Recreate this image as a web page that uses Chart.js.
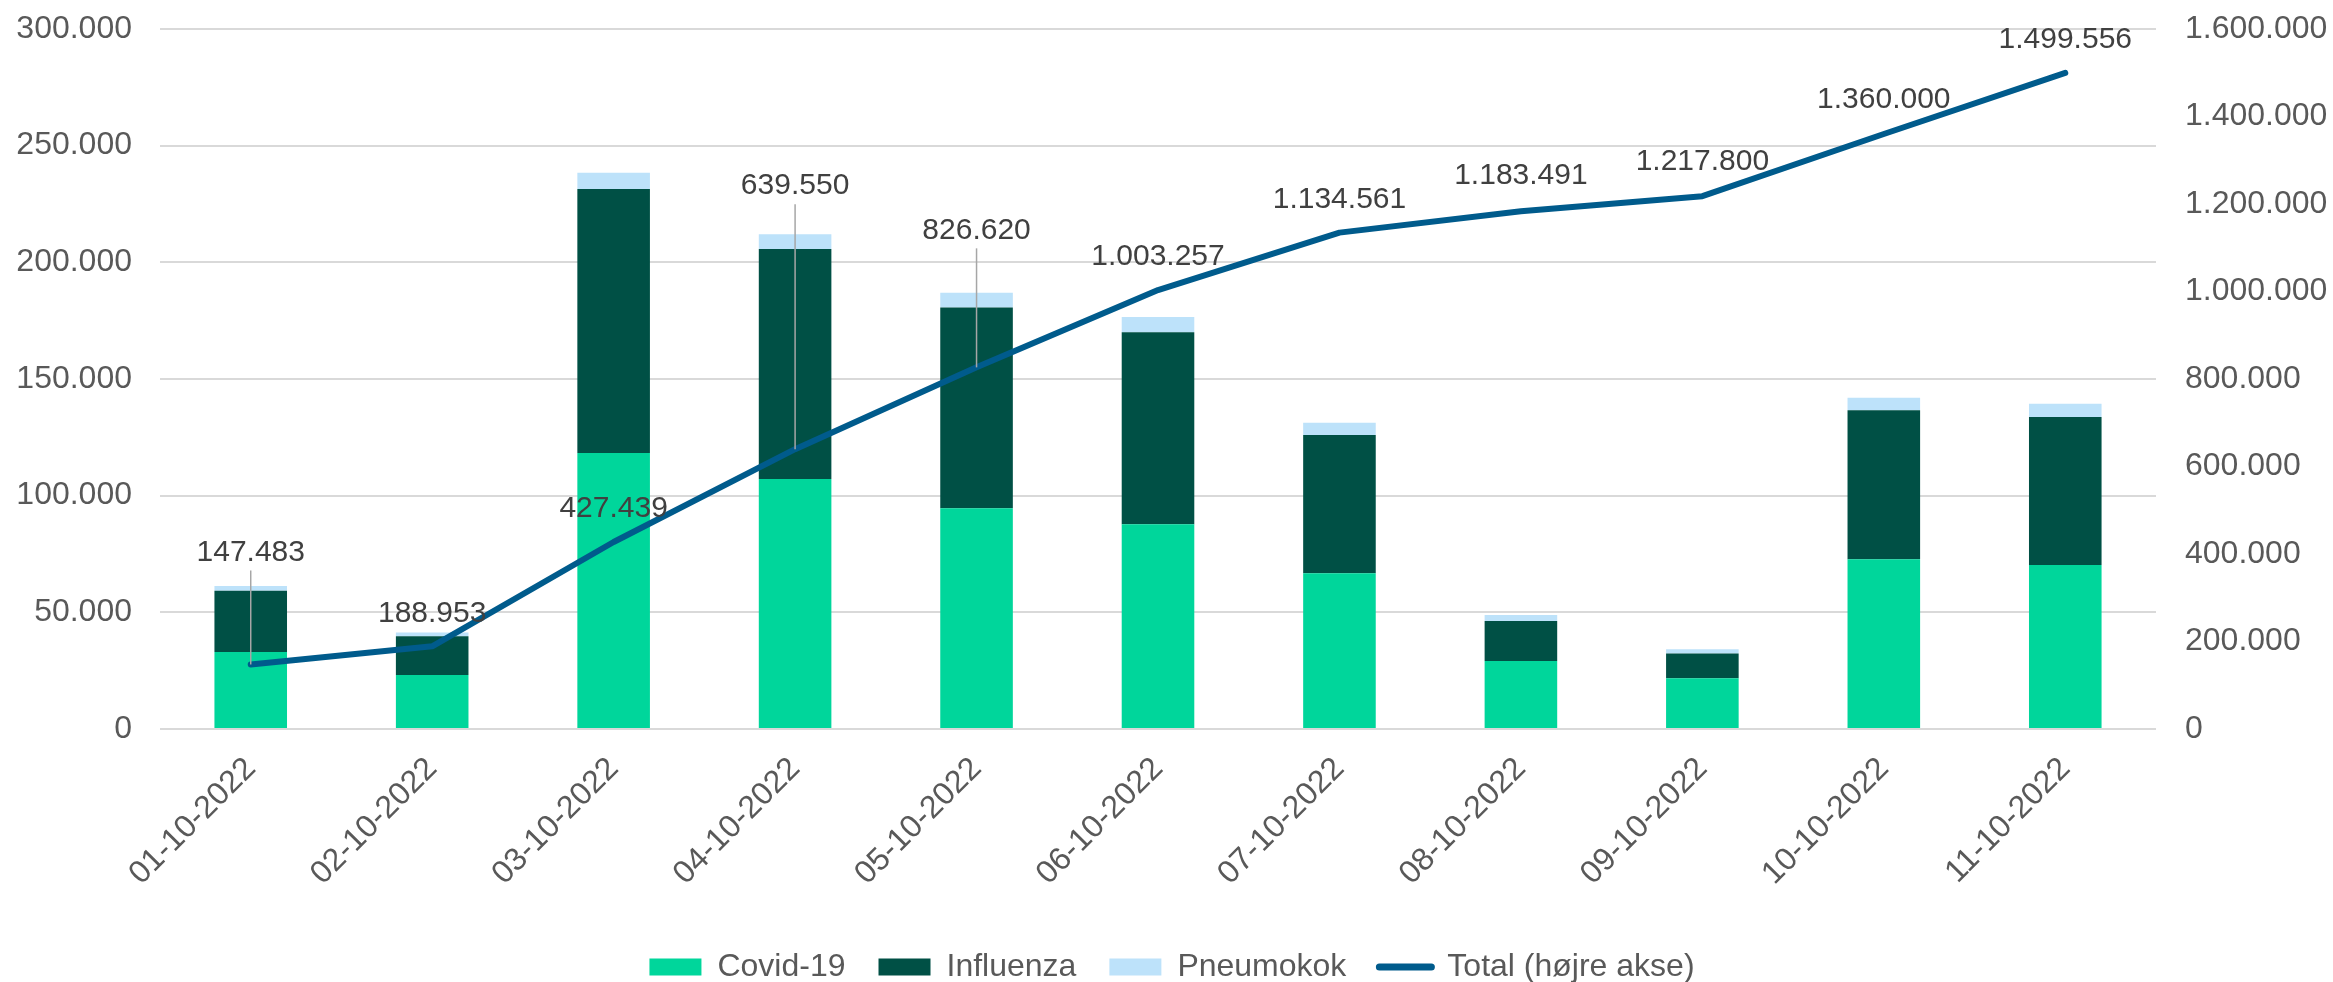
<!DOCTYPE html>
<html lang="da">
<head>
<meta charset="utf-8">
<title>Vaccinationer pr. dag</title>
<script src="https://cdn.jsdelivr.net/npm/chart.js@4.4.0/dist/chart.umd.min.js"></script>
<style>
  html, body { margin: 0; padding: 0; background: #fff; }
  #wrap { width: 2333px; height: 982px; position: relative; }
</style>
</head>
<body>
<div id="wrap"><canvas id="graf"></canvas></div>
<script>
"use strict";

// data
const datoer = ['01-10-2022', '02-10-2022', '03-10-2022', '04-10-2022', '05-10-2022', '06-10-2022',
                '07-10-2022', '08-10-2022', '09-10-2022', '10-10-2022', '11-10-2022'];
const covid = [33000, 23100, 118300, 107100, 94600, 87700, 66700, 29100, 21700, 72700, 70300];
const influenza = [26300, 16600, 113100, 98600, 86000, 82300, 59300, 17200, 10700, 63900, 63400];
const pneumokok = [2000, 1700, 7000, 6300, 6400, 6600, 5300, 2600, 1800, 5400, 5700];
const total = [147483, 188953, 427439, 639550, 826620, 1003257, 1134561, 1183491, 1217800, 1360000, 1499556];

// akser
const venstreMax = 300000, venstreStep = 50000;
const hoejreMax = 1600000, hoejreStep = 200000;

// hvor højt over punktet etiketten sidder (px) - nogle er flyttet op med streg
const etiketLoeft = [112, 33, 33, 263, 137, 33, 33, 35, 34, 34, 33];

const FONT = "'Liberation Sans', Arial, sans-serif";
const GRAA = '#595959';

function tal(v) {
    return String(Math.round(v)).replace(/\B(?=(\d{3})+(?!\d))/g, '.');
}

// tegner dataetiketter for totallinjen
const etiketter = {
    id: 'etiketter',
    afterDatasetsDraw: function (chart) {
        const ctx = chart.ctx;
        const idx = chart.data.datasets.findIndex(function (d) { return d.type === 'line'; });
        const meta = chart.getDatasetMeta(idx);
        ctx.save();
        ctx.font = '30px ' + FONT;
        ctx.textAlign = 'center';
        ctx.textBaseline = 'middle';
        meta.data.forEach(function (pt, i) {
            const ly = pt.y - etiketLoeft[i];
            if (etiketLoeft[i] > 60) {
                ctx.strokeStyle = '#a6a6a6';
                ctx.lineWidth = 1.5;
                ctx.beginPath();
                ctx.moveTo(pt.x, ly + 18);
                ctx.lineTo(pt.x, pt.y);
                ctx.stroke();
            }
            ctx.fillStyle = '#404040';
            ctx.fillText(tal(total[i]), pt.x, ly);
        });
        ctx.restore();
    }
};

// fast bredde paa y-akserne og ingen ekstra luft, saa plotomraadet sidder som i originalen
function yAkse(bredde) {
    return function (scale) {
        scale.paddingTop = 0;
        scale.paddingBottom = 0;
        scale.width = bredde;
    };
}

const ctx = document.getElementById('graf');
new Chart(ctx, {
    data: {
        labels: datoer,
        datasets: [
            { type: 'bar', label: 'Covid-19', data: covid, backgroundColor: '#00d69b', order: 1, yAxisID: 'y' },
            { type: 'bar', label: 'Influenza', data: influenza, backgroundColor: '#005045', order: 1, yAxisID: 'y' },
            { type: 'bar', label: 'Pneumokok', data: pneumokok, backgroundColor: '#bde2fa', order: 1, yAxisID: 'y' },
            {
                type: 'line', label: 'Total (højre akse)', data: total, yAxisID: 'y1', order: 0,
                borderColor: '#005b8c', backgroundColor: '#005b8c', borderWidth: 6,
                pointRadius: 0, tension: 0, borderJoinStyle: 'round', borderCapStyle: 'round'
            }
        ]
    },
    options: {
        responsive: true,
        maintainAspectRatio: false,
        animation: false,
        layout: { padding: { top: 29, left: 17, right: 6, bottom: -11 } },
        datasets: { bar: { categoryPercentage: 1, barPercentage: 0.4 } },
        plugins: {
            tooltip: { enabled: false },
            legend: {
                position: 'bottom',
                labels: {
                    usePointStyle: true,
                    pointStyleWidth: 52,
                    boxHeight: 17,
                    padding: 33,
                    color: GRAA,
                    font: { family: FONT, size: 32 },
                    generateLabels: function (chart) {
                        return chart.data.datasets.map(function (ds, i) {
                            const linje = ds.type === 'line';
                            return {
                                text: ds.label,
                                datasetIndex: i,
                                fillStyle: linje ? ds.borderColor : ds.backgroundColor,
                                strokeStyle: linje ? ds.borderColor : ds.backgroundColor,
                                lineWidth: linje ? 7 : 0,
                                lineCap: 'round',
                                pointStyle: linje ? 'line' : 'rect',
                                fontColor: GRAA,
                                hidden: false
                            };
                        });
                    }
                }
            }
        },
        scales: {
            x: {
                stacked: true,
                grid: { display: false, drawTicks: false },
                border: { display: false },
                ticks: {
                    color: GRAA, font: { family: FONT, size: 32 },
                    maxRotation: 45, minRotation: 45, padding: 21
                },
                afterFit: function (scale) {
                    scale.paddingLeft = 0;
                    scale.paddingRight = 0;
                    scale.height = 189;
                }
            },
            y: {
                stacked: true,
                position: 'left',
                min: 0, max: venstreMax,
                grid: { color: '#d9d9d9', lineWidth: 2, drawTicks: false },
                border: { display: false },
                ticks: {
                    stepSize: venstreStep, padding: 28, color: GRAA,
                    font: { family: FONT, size: 32 },
                    callback: function (v) { return tal(v); }
                },
                afterFit: yAkse(143)
            },
            y1: {
                position: 'right',
                min: 0, max: hoejreMax,
                grid: { display: false, drawTicks: false },
                border: { display: false },
                ticks: {
                    stepSize: hoejreStep, padding: 29, color: GRAA,
                    font: { family: FONT, size: 32 },
                    callback: function (v) { return tal(v); }
                },
                afterFit: yAkse(171)
            }
        }
    },
    plugins: [etiketter]
});
</script>
</body>
</html>
